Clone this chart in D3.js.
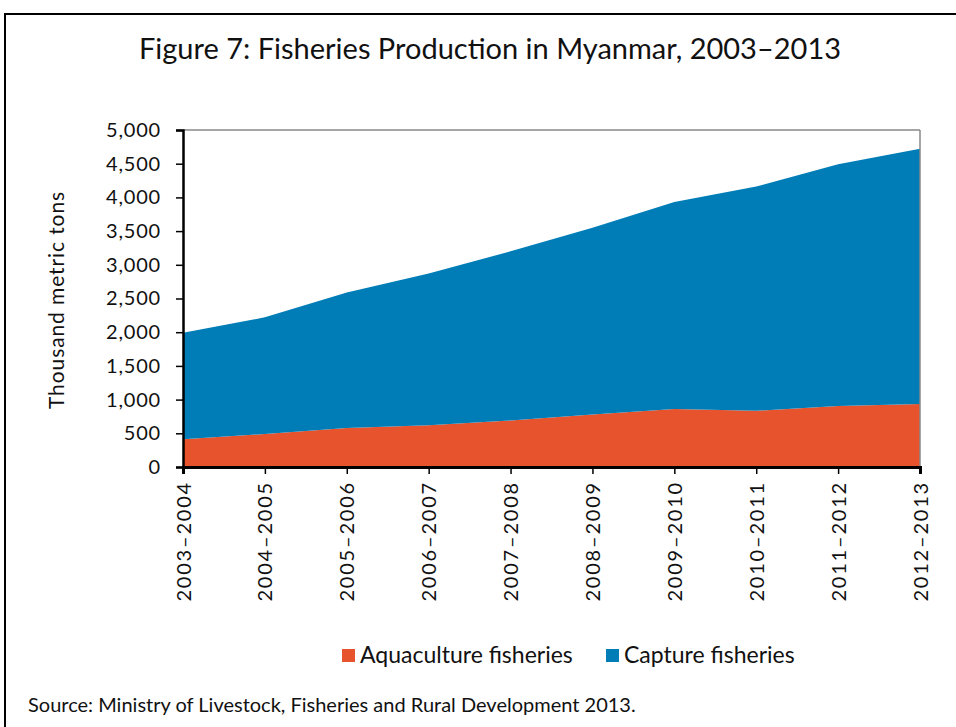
<!DOCTYPE html>
<html><head><meta charset="utf-8">
<script src="https://cdn.jsdelivr.net/npm/d3@7"></script>
<style>body{margin:0;background:#fff;} svg{display:block;}</style>
</head><body>
<svg id="c" width="956" height="727"></svg>
<script>
const years = ["2003–2004","2004–2005","2005–2006","2006–2007","2007–2008","2008–2009","2009–2010","2010–2011","2011–2012","2012–2013"];
const aquaculture = [410, 490, 580, 620, 690, 780, 860, 835, 905, 935];
const capture = [1580, 1730, 2010, 2250, 2510, 2770, 3070, 3325, 3585, 3785];
const yTicks = [0,500,1000,1500,2000,2500,3000,3500,4000,4500,5000];
const seriesNames = ["Aquaculture fisheries","Capture fisheries"];
const colors = ["#E6532D","#007DB7"];

const svg = d3.select("#c");
const font = "Lato, 'Open Sans', sans-serif";
const L=183, R=920, T=130, B=467;
const x = d3.scalePoint().domain(years).range([L,R]);
const y = d3.scaleLinear().domain([0,5000]).range([B,T]);

// frame
svg.append("line").attr("x1",5).attr("x2",956).attr("y1",14).attr("y2",14).attr("stroke","#000").attr("stroke-width",2);
svg.append("line").attr("x1",5).attr("x2",5).attr("y1",13).attr("y2",727).attr("stroke","#000").attr("stroke-width",2);

svg.append("text").attr("x",490).attr("y",59).attr("text-anchor","middle")
  .attr("font-family",font).attr("font-size",29).attr("fill","#111")
  .text("Figure 7: Fisheries Production in Myanmar, 2003–2013");

const rows = years.map((yr,i)=>({year:yr, a:aquaculture[i], c:capture[i]}));
const stack = d3.stack().keys(["a","c"])(rows);
const area = d3.area().x(d=>x(d.data.year)).y0(d=>y(d[0])).y1(d=>y(d[1]));
svg.selectAll("path.area").data(stack).join("path").attr("class","area")
  .attr("d",area).attr("fill",(d,i)=>colors[i]);

// top and right gray frame
svg.append("line").attr("x1",L).attr("x2",R).attr("y1",T).attr("y2",T).attr("stroke","#888").attr("stroke-width",1.5);
svg.append("line").attr("x1",R).attr("x2",R).attr("y1",T).attr("y2",B).attr("stroke","#888").attr("stroke-width",1.5);

// y axis
const ya = svg.append("g").attr("transform",`translate(${L},0)`)
  .call(d3.axisLeft(y).tickValues(yTicks).tickSize(7).tickFormat(d3.format(",")));
ya.select(".domain").attr("stroke","#000").attr("stroke-width",2.5);
ya.selectAll(".tick line").attr("stroke","#000").attr("stroke-width",1.5);
ya.selectAll("text").attr("font-family",font).attr("font-size",20).attr("letter-spacing","0.8px").attr("fill","#111").attr("x",-22);

// x axis
const xa = svg.append("g").attr("transform",`translate(0,${B})`)
  .call(d3.axisBottom(x).tickSize(7));
xa.select(".domain").attr("stroke","#000").attr("stroke-width",3);
xa.selectAll(".tick line").attr("stroke","#000").attr("stroke-width",1.5);
xa.selectAll("text").attr("font-family",font).attr("font-size",20).attr("letter-spacing","1.8px").attr("fill","#111")
  .attr("transform","rotate(-90)").attr("text-anchor","end").attr("x",-14).attr("y",0).attr("dy","0.35em");

svg.append("text").attr("transform","translate(64,300) rotate(-90)").attr("text-anchor","middle")
  .attr("font-family",font).attr("font-size",21).attr("letter-spacing","0.9px").attr("fill","#111").text("Thousand metric tons");

// legend
const leg = [{x:342,tx:360},{x:606,tx:624}];
seriesNames.forEach((n,i)=>{
  svg.append("rect").attr("x",leg[i].x).attr("y",649).attr("width",13).attr("height",13).attr("fill",colors[i]);
  svg.append("text").attr("x",leg[i].tx).attr("y",663).attr("font-family",font).attr("font-size",23).attr("fill","#111").text(n);
});

svg.append("text").attr("x",28).attr("y",712).attr("font-family",font).attr("font-size",20).attr("fill","#111")
  .text("Source: Ministry of Livestock, Fisheries and Rural Development 2013.");
</script>
</body></html>
